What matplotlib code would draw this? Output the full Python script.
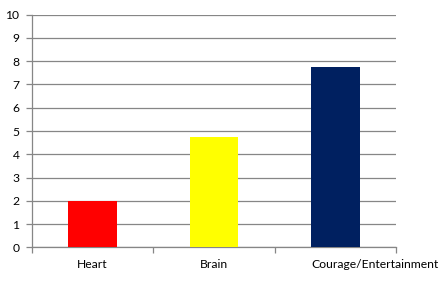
import matplotlib
matplotlib.use("Agg")
import matplotlib.pyplot as plt
import matplotlib.transforms as mtransforms
import numpy as np

categories = ["Heart", "Brain", "Courage/Entertainment"]
values = [2.0, 4.75, 7.75]
colors = ["#ff0000", "#ffff00", "#002060"]
y_ticks = list(range(0, 11))

plt.rcParams['font.family'] = ['Lato', 'DejaVu Sans']

fig = plt.figure(figsize=(4.47, 2.91), dpi=100)
ax = fig.add_axes([32 / 447, 1 - 247.3 / 291, (396 - 32) / 447, (247.3 - 14.7) / 291])

x = np.arange(len(categories))
bar_w = 0.4
ax.bar(x, values, width=bar_w, color=colors, zorder=3)

ax.set_xlim(-0.5, len(categories) - 0.5)
ax.set_ylim(0, 10)
ax.set_yticks(y_ticks)
ax.set_yticklabels([str(v) for v in y_ticks], fontsize=8.7)
ax.grid(axis='y', color='#868686', linewidth=0.9, zorder=0)

# first labels centred under bars, the long one starts at its bar's left edge
ax.set_xticks(x)
ax.set_xticklabels(categories[:-1] + [""], fontsize=8.7)
trans = mtransforms.blended_transform_factory(ax.transData, ax.transAxes)
offset = mtransforms.ScaledTranslation(0, -8.5 / 72, fig.dpi_scale_trans)
ax.text(x[-1] - bar_w / 2, 0, categories[-1], transform=trans + offset,
        fontsize=8.7, ha='left', va='top')

ax.set_xticks(np.arange(-0.5, len(categories)), minor=True)
ax.tick_params(axis='x', which='major', length=0, pad=8.5)
ax.tick_params(axis='x', which='minor', length=4, color='#868686', width=0.9)
ax.tick_params(axis='y', length=4, color='#868686', width=0.9, pad=5)

for side in ['top', 'right']:
    ax.spines[side].set_visible(False)
for side in ['left', 'bottom']:
    ax.spines[side].set_color('#868686')
    ax.spines[side].set_linewidth(0.9)

fig.savefig("out.png", dpi=100)
